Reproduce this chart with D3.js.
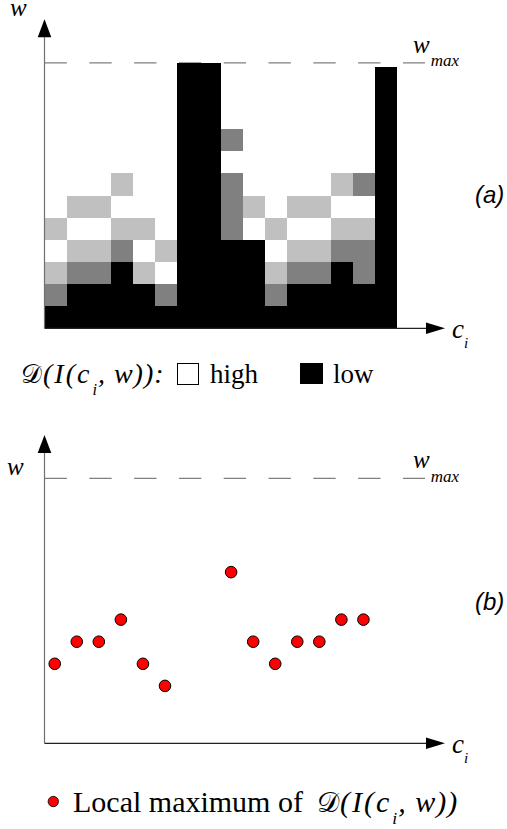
<!DOCTYPE html>
<html>
<head>
<meta charset="utf-8">
<script src="https://cdn.jsdelivr.net/npm/d3@7"></script>
<style>
  html, body { margin: 0; padding: 0; background: #fff; }
  svg { display: block; }
  .serif { font-family: "Liberation Serif", "Times New Roman", "DejaVu Serif", serif; fill: #000; }
  .ital { font-style: italic; }
  .tag { font-family: "Liberation Sans", Arial, sans-serif; font-style: italic; font-size: 24px; fill: #000; }
</style>
</head>
<body>
<div id="container"></div>
<script>
const WIDTH = 507;
const HEIGHT = 829;

// grey level of each cell, per column c_i, listed from w = 0 upwards
// 0 = white (high), 1 = light grey, 2 = dark grey, 3 = black (low)
const cellLevels = [
    [3, 2, 1, 0, 1, 0, 0, 0, 0, 0, 0, 0],
    [3, 3, 2, 1, 0, 1, 0, 0, 0, 0, 0, 0],
    [3, 3, 2, 1, 0, 1, 0, 0, 0, 0, 0, 0],
    [3, 3, 3, 2, 1, 0, 1, 0, 0, 0, 0, 0],
    [3, 3, 1, 0, 1, 0, 0, 0, 0, 0, 0, 0],
    [3, 2, 0, 1, 0, 0, 0, 0, 0, 0, 0, 0],
    [3, 3, 3, 3, 3, 3, 3, 3, 3, 3, 3, 3],
    [3, 3, 3, 3, 3, 3, 3, 3, 3, 3, 3, 3],
    [3, 3, 3, 3, 2, 2, 2, 0, 2, 0, 0, 0],
    [3, 3, 3, 3, 0, 1, 0, 0, 0, 0, 0, 0],
    [3, 2, 1, 0, 1, 0, 0, 0, 0, 0, 0, 0],
    [3, 3, 2, 1, 0, 1, 0, 0, 0, 0, 0, 0],
    [3, 3, 2, 1, 0, 1, 0, 0, 0, 0, 0, 0],
    [3, 3, 3, 2, 1, 0, 1, 0, 0, 0, 0, 0],
    [3, 3, 2, 2, 1, 0, 2, 0, 0, 0, 0, 0],
    [3, 3, 3, 3, 3, 3, 3, 3, 3, 3, 3, 3]
];
// the last column stops a little below w_max
const columnTops = [12, 12, 12, 12, 12, 12, 12, 12, 12, 12, 12, 12, 12, 12, 12, 11.8];

// local maxima of the measure, chart (b)
const maxColumns = [0, 1, 2, 3, 4, 5, 8, 9, 10, 11, 12, 13, 14];
const maxValues = [3.6, 4.6, 4.6, 5.6, 3.6, 2.6, 7.75, 4.6, 3.6, 4.6, 4.6, 5.6, 5.6];

const W_MAX = 12;
const N_COLS = 16;
const SCRIPT_D = "\u{1D49F}";

var XScale = d3.scaleLinear().domain([0, N_COLS]).range([44.5, 397.3]);
var YScaleA = d3.scaleLinear().domain([0, W_MAX]).range([328.3, 62.9]);
var YScaleB = d3.scaleLinear().domain([0, W_MAX]).range([743.3, 478.3]);
var levelColor = d3.scaleOrdinal().domain([0, 1, 2, 3]).range(["#ffffff", "#c0c0c0", "#808080", "#000000"]);

var SVG = d3.select("#container").append("svg")
    .attr("width", WIDTH)
    .attr("height", HEIGHT);

var drawDashed = function (g, y) {
    g.append("line")
        .attr("x1", XScale(0)).attr("x2", 425)
        .attr("y1", y).attr("y2", y)
        .attr("stroke", "#808080")
        .attr("stroke-width", 1.2)
        .attr("stroke-dasharray", "22.4,22.4");
};

var drawAxes = function (g, yScale, tipY) {
    var x0 = XScale(0);
    var y0 = yScale(0);
    g.append("line")
        .attr("x1", x0).attr("x2", x0)
        .attr("y1", y0).attr("y2", tipY + 14)
        .attr("stroke", "#707070").attr("stroke-width", 1.2);
    g.append("path")
        .attr("d", "M" + x0 + "," + tipY + "L" + (x0 - 6.8) + "," + (tipY + 18) + "L" + (x0 + 6.8) + "," + (tipY + 18) + "Z")
        .attr("fill", "#000");
    g.append("line")
        .attr("x1", x0).attr("x2", 430)
        .attr("y1", y0).attr("y2", y0)
        .attr("stroke", "#222").attr("stroke-width", 1.2);
    g.append("path")
        .attr("d", "M445," + y0 + "L426," + (y0 - 5.8) + "L426," + (y0 + 5.8) + "Z")
        .attr("fill", "#000");
};

var drawLabels = function (g, yScale, wX, wY) {
    var yTop = yScale(W_MAX);
    var y0 = yScale(0);
    g.append("text").attr("class", "serif ital")
        .attr("x", wX).attr("y", wY).attr("font-size", 25).text("w");
    var wm = g.append("text").attr("class", "serif ital").attr("x", 413).attr("y", yTop - 10);
    wm.append("tspan").attr("font-size", 25).text("w");
    wm.append("tspan").attr("font-size", 17).attr("dy", 13.5).attr("dx", 1).text("max");
    var ci = g.append("text").attr("class", "serif ital").attr("x", 452).attr("y", y0 + 10);
    ci.append("tspan").attr("font-size", 27).text("c");
    ci.append("tspan").attr("font-size", 15).attr("dy", 10).attr("dx", 0).text("i");
};

// legend text "D(I(c_i, w))" flowing from x
var measureLabel = function (g, x, y, size, tail) {
    var t = g.append("text").attr("class", "serif").attr("x", x).attr("y", y).attr("font-size", size);
    t.append("tspan").attr("font-size", size * 0.92).text(SCRIPT_D);
    t.append("tspan").attr("class", "ital").attr("dx", 1).attr("letter-spacing", 2).text("(I(c");
    t.append("tspan").attr("class", "ital").attr("dx", 1).attr("dy", 12).attr("font-size", size * 0.58).text("i");
    t.append("tspan").attr("class", "ital").attr("dx", 1).attr("dy", -12).attr("letter-spacing", 1).text(tail);
    return t;
};

// ---------- chart (a) ----------
var gA = SVG.append("g");
drawDashed(gA, YScaleA(W_MAX));

var cells = [];
cellLevels.forEach(function (col, c) {
    col.forEach(function (level, r) {
        var top = Math.min(r + 1, columnTops[c]);
        if (level > 0 && top > r) cells.push({c: c, r: r, top: top, level: level});
    });
});

gA.selectAll("rect.cell").data(cells).enter().append("rect")
    .attr("class", "cell")
    .attr("x", function (d) { return XScale(d.c); })
    .attr("y", function (d) { return YScaleA(d.top); })
    .attr("width", XScale(1) - XScale(0))
    .attr("height", function (d) { return YScaleA(d.r) - YScaleA(d.top); })
    .attr("fill", function (d) { return levelColor(d.level); })
    .attr("shape-rendering", "crispEdges");

drawAxes(gA, YScaleA, 19.3);
drawLabels(gA, YScaleA, 10, 16);
gA.append("text").attr("class", "tag").attr("x", 475).attr("y", 203).text("(a)");

// legend (a)
measureLabel(gA, 21, 382.7, 28, ", w)):");
gA.append("rect").attr("x", 177.5).attr("y", 363.5).attr("width", 21).attr("height", 21)
    .attr("fill", levelColor(0)).attr("stroke", "#000").attr("stroke-width", 1);
gA.append("text").attr("class", "serif").attr("x", 210).attr("y", 382.7).attr("font-size", 27).text("high");
gA.append("rect").attr("x", 300).attr("y", 363).attr("width", 23).attr("height", 21)
    .attr("fill", levelColor(3));
gA.append("text").attr("class", "serif").attr("x", 333).attr("y", 382.7).attr("font-size", 27).text("low");

// ---------- chart (b) ----------
var gB = SVG.append("g");
drawDashed(gB, YScaleB(W_MAX));
drawAxes(gB, YScaleB, 435);
drawLabels(gB, YScaleB, 7, 475);
gB.append("text").attr("class", "tag").attr("x", 475).attr("y", 610).text("(b)");

gB.selectAll("circle.max").data(maxValues).enter().append("circle")
    .attr("class", "max")
    .attr("cx", function (d, i) { return XScale(maxColumns[i] + 0.5) - 0.8; })
    .attr("cy", function (d) { return YScaleB(d); })
    .attr("r", 5.8)
    .attr("fill", "#ff0000")
    .attr("stroke", "#000")
    .attr("stroke-width", 1);

// legend (b)
gB.append("circle").attr("cx", 53.3).attr("cy", 801.5).attr("r", 5.2)
    .attr("fill", "#ff0000").attr("stroke", "#000").attr("stroke-width", 0.8);
gB.append("text").attr("class", "serif").attr("x", 73).attr("y", 811.7).attr("font-size", 30).text("Local maximum of");
measureLabel(gB, 317, 811.7, 30, ", w))");
</script>
</body>
</html>
